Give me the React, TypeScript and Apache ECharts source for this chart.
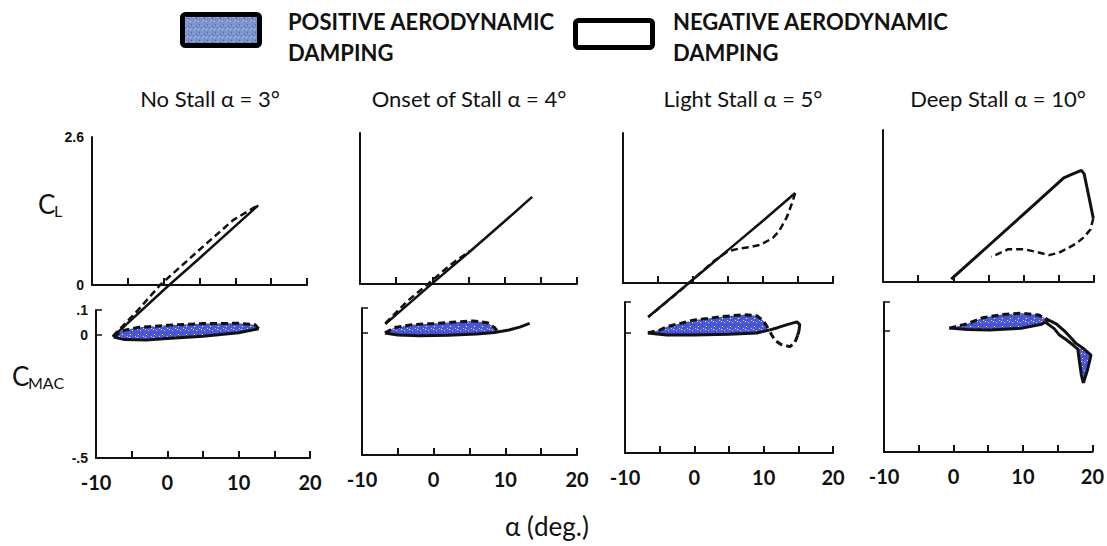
import React, { useEffect, useRef } from 'react';
import * as echarts from 'echarts';

const panelTitles = ['No Stall α = 3°', 'Onset of Stall α = 4°', 'Light Stall α = 5°', 'Deep Stall α = 10°'];
const legendLabels = ['POSITIVE AERODYNAMIC\nDAMPING', 'NEGATIVE AERODYNAMIC\nDAMPING'];
const xAxisTitle = 'α (deg.)';
const alphaLabelValues = [-10, 0, 10, 20];
const clLabelValues = [0, 2.6];
const clLabelTexts = ['0', '2.6'];
const cmLabelValues = [-0.5, 0, 0.1];
const cmLabelTexts = ['-.5', '0', '.1'];

// ---- No stall (alpha = 3°)
const noStallClSolid = [[-7.1, -0.91], [0.5, -0.03], [5, 0.47], [13.2, 1.4]];
const noStallClDashed = [[-7.1, -0.9], [-4, -0.5], [-0.5, 0], [5, 0.62], [9.7, 1.14], [12.6, 1.36], [13.2, 1.4]];
const noStallCmSolid = [[-7.5, -0.01], [-6, -0.02], [-3, -0.022], [0, -0.016], [5, -0.006], [10, 0.008], [12.8, 0.024]];
const noStallCmDashed = [[-7.5, -0.01], [-6.5, 0.015], [-4, 0.03], [0, 0.038], [5, 0.045], [10, 0.046], [12.3, 0.04], [12.8, 0.024]];

// ---- Onset of stall (alpha = 4°)
const onsetClSolid = [[-6.5, -0.69], [0, 0.01], [5.2, 0.56], [10, 1.08], [13.8, 1.5]];
const onsetClDashed = [[-6.5, -0.68], [-3.5, -0.3], [-0.6, 0], [2.5, 0.33], [5.2, 0.57]];
const onsetCmSolid = [[-6.8, -0.002], [-5, -0.01], [-2, -0.013], [2, -0.011], [6, -0.006], [8.5, 0], [10.5, 0.01], [12, 0.022], [13.4, 0.037]];
const onsetCmDashed = [[-6.8, -0.002], [-5.5, 0.02], [-3, 0.032], [0, 0.037], [3, 0.043], [5.5, 0.047], [7.5, 0.04], [8.5, 0.02], [9, 0.002]];

// ---- Light stall (alpha = 5°)
const lightClSolid = [[-6.4, -0.59], [0, 0.06], [5, 0.57], [10, 1.08], [14.6, 1.56]];
const lightClDashed = [[14.6, 1.56], [14.2, 1.4], [13.4, 1.14], [12.3, 0.9], [11.4, 0.78], [9.6, 0.66], [8, 0.62], [6.7, 0.6], [5, 0.55], [3, 0.38], [1, 0.17], [-2, -0.15], [-4, -0.35], [-6.4, -0.59]];
const lightCmSolid = [[-6.7, 0], [-4, -0.008], [0, -0.008], [5, -0.005], [9, 0], [10.8, 0.012]];
const lightCmDashed = [[-6.7, 0], [-5, 0.012], [-4, 0.026], [0, 0.054], [4, 0.068], [7, 0.076], [9, 0.072], [10, 0.05], [10.8, 0.012]];
const lightCmLoopTop = [[10.8, 0.012], [12, 0.022], [13.5, 0.036], [14.8, 0.046], [15.2, 0.035], [15.1, 0.01], [14.9, -0.01]];
const lightCmLoopBottom = [[14.9, -0.01], [14.5, -0.04], [13.8, -0.057], [12.5, -0.048], [11.6, -0.03], [11.1, -0.005], [10.8, 0.012]];

// ---- Deep stall (alpha = 10°)
const deepClSolid = [[-0.3, 0.05], [5, 0.62], [10, 1.16], [15.7, 1.78], [17, 1.85], [18.2, 1.91], [18.6, 1.85], [19.2, 1.5], [19.9, 1.09]];
const deepClDashed = [[19.9, 1.09], [19.5, 0.9], [18.6, 0.77], [17.5, 0.66], [16.3, 0.58], [15, 0.5], [13.6, 0.46], [12, 0.51], [10.1, 0.56], [7.8, 0.56], [5.4, 0.43]];
const deepCmSolid = [[-0.6, 0.012], [2, 0.006], [5.2, 0.004], [9.9, 0.012], [12.7, 0.028], [13.7, 0.045]];
const deepCmDashed = [[-0.6, 0.012], [2, 0.03], [4.2, 0.055], [7, 0.068], [9.9, 0.074], [12.3, 0.066], [13.7, 0.045]];
const deepCmTailOuter = [[13.7, 0.045], [14.8, 0.03], [16, 0], [16.8, -0.025], [17.6, -0.05], [18.6, -0.07], [19.8, -0.1], [19.3, -0.16], [18.7, -0.215]];
const deepCmTailInner = [[13.3, 0.035], [14.5, 0.01], [15.2, -0.015], [16.2, -0.035], [17.3, -0.06], [17.9, -0.075], [18.1, -0.12], [18.4, -0.18], [18.7, -0.215]];
const deepCmBlob = [[17.9, -0.072], [18.8, -0.075], [19.7, -0.1], [19.2, -0.16], [18.7, -0.21], [18.3, -0.17], [18.0, -0.11]];

const clGrids = [
  { left: 92, top: 137, width: 215, height: 148 },
  { left: 360, top: 133, width: 217, height: 151 },
  { left: 623, top: 133, width: 210, height: 150 },
  { left: 883, top: 130, width: 211, height: 152 },
];
const cmGrids = [
  { left: 96, top: 310, width: 214, height: 148 },
  { left: 362, top: 308, width: 215, height: 147 },
  { left: 625, top: 302, width: 208, height: 151 },
  { left: 884, top: 302, width: 211, height: 150 },
];
const cmMax = [0.1, 0.1, 0.129, 0.12];

function makePattern(base: string, dots: string[], size: number) {
  const c = document.createElement('canvas');
  c.width = size;
  c.height = size;
  const ctx = c.getContext('2d')!;
  ctx.fillStyle = base;
  ctx.fillRect(0, 0, size, size);
  const spots = [[1, 1], [4, 2], [6, 5], [2, 6], [7, 0], [3, 4]];
  spots.forEach((s, i) => {
    ctx.fillStyle = dots[i % dots.length];
    ctx.fillRect(s[0] % size, s[1] % size, 1, 1);
  });
  return { image: c, repeat: 'repeat', imageWidth: size, imageHeight: size } as any;
}

const pick = (vals: number[], texts: string[], v: number) => {
  const k = vals.findIndex((c) => Math.abs(c - v) < 1e-6);
  return k >= 0 ? texts[k] : '';
};

export default function App() {
  const ref = useRef<HTMLDivElement>(null);
  useEffect(() => {
    if (!ref.current) return;
    const chart = echarts.init(ref.current, undefined, { renderer: 'svg' });
    const blue = makePattern('#4a58d8', ['#ffffff', '#c9cff5', '#3341c0'], 8);
    const legendBlue = makePattern('#7a92cc', ['#b9c8ea', '#4e64a6', '#dfe6f6'], 8);

    const mkLine = () => ({ show: true, onZero: false, lineStyle: { color: '#111', width: 2 } });
    const xAxes: any[] = [];
    const yAxes: any[] = [];
    const grids: any[] = [];
    for (let i = 0; i < 4; i++) grids.push({ ...clGrids[i] });
    for (let i = 0; i < 4; i++) grids.push({ ...cmGrids[i] });
    // data x axes (0-7)
    for (let i = 0; i < 8; i++) {
      const isCm = i >= 4;
      xAxes.push({
        type: 'value', gridIndex: i, min: -10, max: 20, interval: 5,
        axisLine: mkLine(), splitLine: { show: false },
        axisTick: { show: false },
        axisLabel: {
          show: isCm, margin: 14,
          formatter: (v: number) => (alphaLabelValues.some((a) => Math.abs(a - v) < 1e-6) ? String(Math.round(v)) : ''),
          fontSize: 20, fontWeight: 'bold', color: '#111', fontFamily: 'Lato',
        },
      });
    }
    // tick-only x axes (8-15)
    for (let i = 0; i < 8; i++) {
      xAxes.push({
        type: 'value', gridIndex: i, min: -10, max: 20, interval: 5, position: 'bottom', offset: 0,
        axisLine: { show: false, onZero: false }, splitLine: { show: false },
        axisTick: { show: true, inside: true, length: 7, lineStyle: { color: '#111', width: 2 } },
        axisLabel: { show: false },
      });
    }
    // C_L axes (0-3)
    for (let i = 0; i < 4; i++) {
      yAxes.push({
        type: 'value', gridIndex: i, min: 0, max: 2.6, interval: 2.6,
        axisLine: mkLine(), splitLine: { show: false }, axisTick: { show: false },
        axisLabel: {
          show: i === 0, margin: 8,
          formatter: (v: number) => pick(clLabelValues, clLabelTexts, v),
          fontSize: 14, fontWeight: 'bold', color: '#111', fontFamily: 'Liberation Sans',
        },
      });
    }
    // C_MAC axes (4-7)
    for (let k = 0; k < 4; k++) {
      yAxes.push({
        type: 'value', gridIndex: 4 + k, min: -0.5, max: cmMax[k], interval: 0.1,
        axisLine: mkLine(), splitLine: { show: false }, axisTick: { show: false },
        axisLabel: {
          show: k === 0, margin: 8,
          formatter: (v: number) => pick(cmLabelValues, cmLabelTexts, v),
          fontSize: 14, fontWeight: 'bold', color: '#111', fontFamily: 'Liberation Sans',
        },
      });
    }
    // C_MAC tick-only axes (8-11)
    for (let k = 0; k < 4; k++) {
      yAxes.push({
        type: 'value', gridIndex: 4 + k, min: -0.5, max: cmMax[k], interval: 0.5, position: 'left', offset: 0,
        axisLine: { show: false, onZero: false }, splitLine: { show: false },
        axisTick: { show: true, inside: true, length: 6, lineStyle: { color: '#111', width: 1.5 } },
        axisLabel: { show: false },
      });
    }

    const line = (idx: number, data: number[][], dashed: boolean, width = 2.5) => ({
      type: 'line', xAxisIndex: idx, yAxisIndex: idx, data, symbol: 'none', clip: false, silent: true, z: 5,
      lineStyle: { color: '#111', width, type: dashed ? [7, 4] : 'solid' },
    });
    const fill = (idx: number, pts: number[][], f: any) => ({
      type: 'custom', xAxisIndex: idx, yAxisIndex: idx, data: pts, silent: true, z: 2, clip: false,
      renderItem: (params: any, api: any) => {
        if (params.dataIndex !== 0) return null;
        return {
          type: 'polygon',
          shape: { points: pts.map((p) => api.coord(p)) },
          style: { fill: f, stroke: 'none' },
        };
      },
    });

    const series: any[] = [
      // No stall
      line(0, noStallClSolid, false), line(0, noStallClDashed, true),
      fill(4, [...noStallCmDashed, ...noStallCmSolid.slice().reverse()], blue),
      line(4, noStallCmSolid, false, 3), line(4, noStallCmDashed, true, 3),
      // Onset
      line(1, onsetClSolid, false), line(1, onsetClDashed, true),
      fill(5, [...onsetCmDashed, ...onsetCmSolid.filter((p) => p[0] <= 9).reverse()], blue),
      line(5, onsetCmSolid, false, 3), line(5, onsetCmDashed, true, 3),
      // Light
      line(2, lightClSolid, false), line(2, lightClDashed, true),
      fill(6, [...lightCmDashed, ...lightCmSolid.slice().reverse()], blue),
      line(6, lightCmSolid, false, 3), line(6, lightCmDashed, true, 3),
      line(6, lightCmLoopTop, false, 3), line(6, lightCmLoopBottom, true, 3),
      // Deep
      line(3, deepClSolid, false, 3), line(3, deepClDashed, true, 2.5),
      fill(7, [...deepCmDashed, ...deepCmSolid.slice().reverse()], blue),
      fill(7, deepCmBlob, blue),
      line(7, deepCmSolid, false, 3), line(7, deepCmDashed, true, 3),
      line(7, deepCmTailOuter, false, 3), line(7, deepCmTailInner, false, 3),
    ];

    const titleX = [210, 469, 743, 998];
    const graphic: any[] = [
      { type: 'rect', shape: { x: 182.5, y: 14.5, width: 77, height: 31, r: 3 }, style: { fill: legendBlue, stroke: '#000', lineWidth: 5 } },
      { type: 'rect', shape: { x: 575.5, y: 20.5, width: 77, height: 27, r: 3 }, style: { fill: '#fff', stroke: '#000', lineWidth: 5 } },
      { type: 'text', x: 288, y: 6, style: { text: legendLabels[0], font: 'bold 22px Lato', fill: '#111', lineHeight: 31, verticalAlign: 'top' } },
      { type: 'text', x: 673, y: 6, style: { text: legendLabels[1], font: 'bold 22px Lato', fill: '#111', lineHeight: 31, verticalAlign: 'top' } },
      ...panelTitles.map((t, i) => ({ type: 'text', x: titleX[i], y: 98, style: { text: t, font: '22px Lato', fill: '#111', align: 'center', verticalAlign: 'middle' } })),
      { type: 'text', x: 38, y: 204, style: { text: 'C', font: '26px Lato', fill: '#111', verticalAlign: 'middle' } },
      { type: 'text', x: 54, y: 210, style: { text: 'L', font: '16px Lato', fill: '#111', verticalAlign: 'middle' } },
      { type: 'text', x: 12, y: 376, style: { text: 'C', font: '26px Lato', fill: '#111', verticalAlign: 'middle' } },
      { type: 'text', x: 28, y: 382, style: { text: 'MAC', font: '16px Lato', fill: '#111', verticalAlign: 'middle' } },
      { type: 'text', x: 547, y: 526, style: { text: xAxisTitle, font: '26px Lato', fill: '#111', align: 'center', verticalAlign: 'middle' } },
    ];

    chart.setOption({
      animation: false,
      backgroundColor: '#fff',
      grid: grids,
      xAxis: xAxes,
      yAxis: yAxes,
      series,
      graphic,
    });
    return () => chart.dispose();
  }, []);
  return <div ref={ref} style={{ position: 'fixed', left: 0, top: 0, width: 1107, height: 546 }} />;
}
